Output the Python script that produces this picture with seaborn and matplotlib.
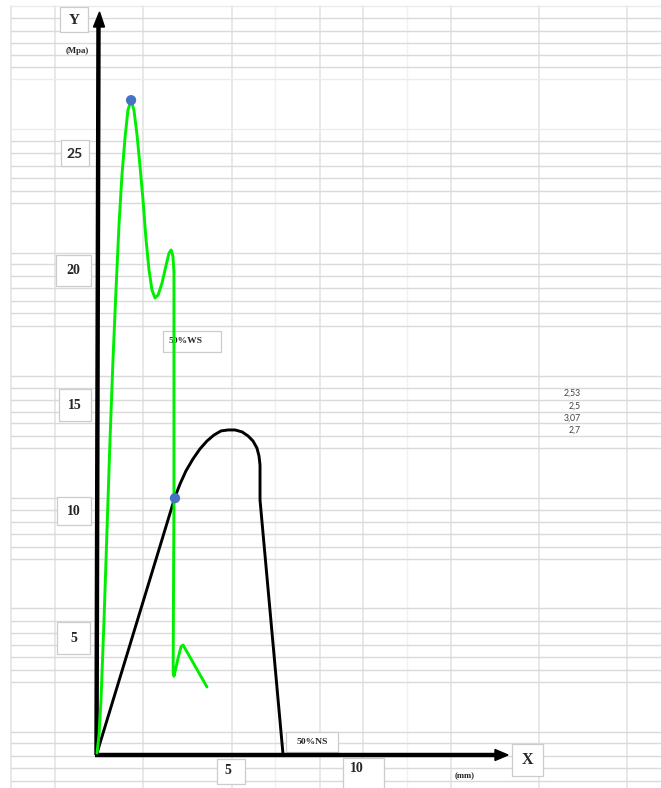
import matplotlib
matplotlib.use("Agg")
import matplotlib.pyplot as plt
from matplotlib.patches import Rectangle, Polygon
import seaborn as sns
import pandas as pd

sns.set_style("white")
plt.rcParams["font.family"] = ["DejaVu Sans"]

# --- stress / displacement curves (x in mm, y in MPa) ---
ws_x = [0.0, 0.077, 0.154, 0.27, 0.385, 0.5, 0.615, 0.73, 0.846, 0.96, 1.077, 1.19,
        1.31, 1.42, 1.54, 1.65, 1.77, 1.88, 2.0, 2.115, 2.23, 2.35, 2.5, 2.65,
        2.77, 2.85, 2.92, 2.96, 2.96, 2.96, 2.93, 2.93, 2.96, 3.0, 3.12, 3.23,
        3.31, 3.42, 4.23]
ws_y = [0.0, 0.75, 2.21, 5.54, 9.29, 13.04, 16.38, 19.29, 22.0, 24.08, 25.63, 26.79,
        27.2, 26.79, 25.75, 24.5, 23.04, 21.46, 20.13, 19.29, 18.96, 19.08, 19.58, 20.29,
        20.83, 20.96, 20.71, 20.04, 18.46, 10.54, 3.88, 3.38, 3.2, 3.38, 3.96, 4.42,
        4.5, 4.29, 2.75]

ns_x = [0.0, 3.0, 3.19, 3.42, 3.69, 3.96, 4.23, 4.5, 4.77, 5.04, 5.31, 5.58,
        5.81, 6.0, 6.15, 6.23, 6.27, 6.27, 7.15]
ns_y = [0.0, 10.67, 11.2, 11.75, 12.25, 12.67, 13.0, 13.25, 13.42, 13.46, 13.46, 13.38,
        13.21, 13.0, 12.71, 12.38, 12.0, 10.54, 0.0]

key_x = [1.31, 3.0]
key_y = [27.2, 10.62]

y_ticks = ["25", "20", "15", "10", "5"]
x_ticks = ["5", "10"]
side_values = ["2,53", "2,5", "3,07", "2,7"]

W, H = 661, 788
fig = plt.figure(figsize=(W / 100, H / 100), dpi=100)

# ---------- sheet background (pixel coordinates) ----------
bg = fig.add_axes([0, 0, 1, 1])
bg.set_xlim(0, W)
bg.set_ylim(H, 0)
bg.axis("off")

col_lines = [11, 55, 143, 232, 320, 363, 451, 539, 627]
col_faint = [275, 407]
row_lines = [18, 31, 43, 55, 67, 141, 153, 166, 178, 191, 203,
             253, 264, 276, 288, 301, 313, 326, 376, 388, 400, 412, 423, 436, 448,
             498, 510, 522, 534, 547, 559, 608, 621, 633, 645, 657, 670, 682,
             732, 743, 756, 768, 781]
row_faint = [6, 79, 129]

for x in col_lines:
    bg.plot([x, x], [6, H], color="#e2e2e2", lw=1.1, zorder=1)
for x in col_faint:
    bg.plot([x, x], [6, H], color="#f1f1f1", lw=1.0, zorder=1)
for y in row_lines:
    bg.plot([11, W], [y, y], color="#dadada", lw=1.0, zorder=1)
for y in row_faint:
    bg.plot([11, W], [y, y], color="#ececec", lw=1.0, zorder=1)


def box(x0, y0, x1, y1):
    bg.add_patch(Rectangle((x0, y0), x1 - x0, y1 - y0, facecolor="white",
                           edgecolor="#cccccc", lw=0.9, zorder=2))


serif = ["Liberation Serif", "DejaVu Serif"]

# axis name boxes
box(60, 7, 88, 32)
bg.text(74, 20, "Y", family=serif, weight="bold", fontsize=11, ha="center", va="center", zorder=3)
bg.text(77, 51, "(Mpa)", family=serif, weight="bold", fontsize=6.3, ha="center", va="center", zorder=3)
box(512, 744, 543, 776)
bg.text(527, 760, "X", family=serif, weight="bold", fontsize=11.5, ha="center", va="center", zorder=3)
bg.text(465, 776, "(mm)", family=serif, weight="bold", fontsize=6.3, ha="center", va="center", zorder=3)

# y tick boxes
y_boxes = [(61, 140, 89, 166), (56, 255, 91, 286), (59, 389, 91, 421),
           (57, 497, 91, 525), (57, 622, 90, 654)]
for lab, (x0, y0, x1, y1) in zip(y_ticks, y_boxes):
    box(x0, y0, x1, y1)
    fam = ["Lato", "DejaVu Sans"] if lab == "25" else serif
    bg.text((x0 + x1) / 2, (y0 + y1) / 2 + 0.5, lab, family=fam, weight="bold",
            fontsize=10, ha="center", va="center", zorder=3)

# x tick boxes
x_boxes = [(217, 759, 245, 784), (343, 758, 384, 792)]
x_text_pos = [(228, 771), (357, 769)]
for lab, (x0, y0, x1, y1), (tx, ty) in zip(x_ticks, x_boxes, x_text_pos):
    box(x0, y0, x1, y1)
    bg.text(tx, ty, lab, family=serif, weight="bold", fontsize=10,
            ha="center", va="center", zorder=3)

# series name boxes
box(163, 331, 221, 352)
bg.text(169, 341, "50%WS", family=serif, weight="bold", fontsize=6.8, ha="left", va="center", zorder=3)
box(286, 732, 338, 752)
bg.text(312, 742, "50%NS", family=serif, weight="bold", fontsize=6.8, ha="center", va="center", zorder=3)

# loose values in the sheet
for lab, y in zip(side_values, [393, 406, 418, 430]):
    bg.text(581, y, lab, family=["Lato", "DejaVu Sans"], fontsize=6.3, color="#444444",
            ha="right", va="center", zorder=3)

# hand-drawn axes with arrow heads
bg.plot([96.5, 98.5], [755, 26], color="black", lw=3.2, solid_capstyle="butt", zorder=4)
bg.add_patch(Polygon([(93.5, 27), (104.5, 27), (99.5, 12)], closed=True, color="black", zorder=4))
bg.plot([95, 496], [755, 755], color="black", lw=3.2, solid_capstyle="butt", zorder=4)
bg.add_patch(Polygon([(495, 749.5), (495, 760.5), (508, 755)], closed=True, color="black", zorder=4))

# ---------- data layer ----------
ax = fig.add_axes([0, 0, 1, 1])
ax.patch.set_alpha(0)
px_per_mm, px_per_mpa, ox, oy = 26.0, 24.0, 97.0, 753.0
ax.axis("off")

ws = pd.DataFrame({"x": ws_x, "y": ws_y})
ns = pd.DataFrame({"x": ns_x, "y": ns_y})
sns.lineplot(data=ns, x="x", y="y", sort=False, estimator=None, color="black",
             linewidth=2.1, ax=ax)
sns.lineplot(data=ws, x="x", y="y", sort=False, estimator=None, color="#00ee00",
             linewidth=2.1, ax=ax)
for line in ax.get_lines():
    line.set_solid_joinstyle("round")
    line.set_solid_capstyle("round")
sns.scatterplot(x=key_x, y=key_y, color="#4472c4", s=55, edgecolor="none", ax=ax, zorder=5)
ax.set_xlim(-ox / px_per_mm, (W - ox) / px_per_mm)
ax.set_ylim((oy - H) / px_per_mpa, oy / px_per_mpa)

fig.savefig("out.png", dpi=100)
